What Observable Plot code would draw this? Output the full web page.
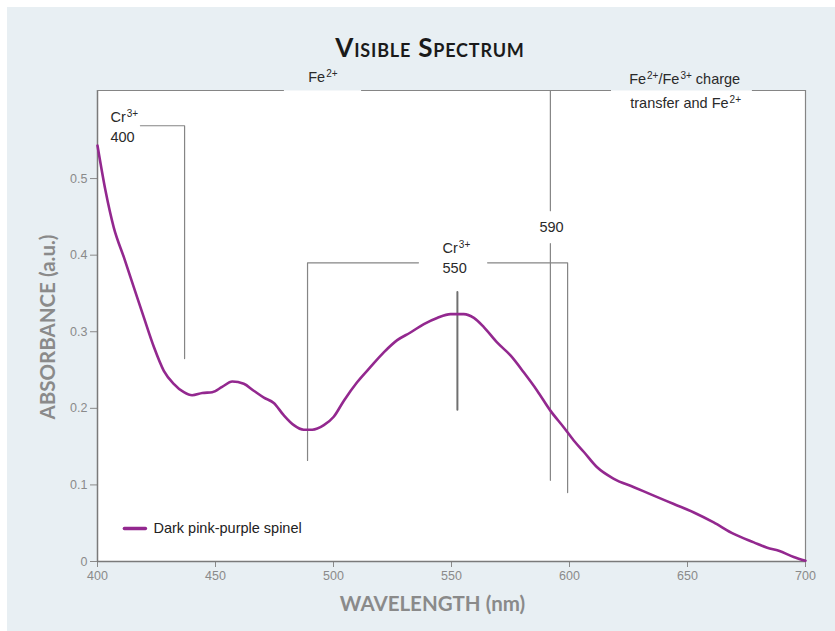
<!DOCTYPE html>
<html><head><meta charset="utf-8">
<script src="https://cdn.jsdelivr.net/npm/d3@7"></script>
<script src="https://cdn.jsdelivr.net/npm/@observablehq/plot@0.6"></script>
<style>
body{margin:0;background:#fff;}
#panel{position:absolute;left:7px;top:7px;width:828px;height:624px;background:#e8eff3;overflow:hidden;}
#title{position:absolute;left:9px;width:828px;top:24px;text-align:center;font:bold 26px Lato, sans-serif;font-variant:small-caps;color:#1a1a1a;letter-spacing:0.8px;}
#chart{position:absolute;left:0;top:55px;}
</style></head><body>
<div id="panel"><div id="title">Visible Spectrum</div><div id="chart"></div></div>
<script>
// ---- data ----
const wavelength = [400, 403.4, 406.9, 411.2, 415.4, 419.6, 423.9, 428.1, 432.3, 436.6, 440.1, 444.4, 448.6, 452.8, 457.1, 462, 466.2, 470.5, 474.7, 478.9, 483.2, 487.4, 491, 495.9, 500.1, 504.4, 510, 515.7, 521.3, 527, 532.6, 538.3, 543.9, 549.6, 555.2, 559.5, 563.7, 569.3, 575, 580.6, 586.3, 591.9, 597.6, 601.8, 606.1, 611.7, 618.8, 627.3, 635.7, 644.2, 652.7, 661.1, 669.6, 678.1, 683.8, 688.7, 695, 700];
const absorbance = [0.543, 0.484, 0.436, 0.397, 0.358, 0.319, 0.280, 0.249, 0.232, 0.221, 0.217, 0.220, 0.221, 0.228, 0.235, 0.232, 0.223, 0.214, 0.207, 0.191, 0.178, 0.172, 0.172, 0.178, 0.189, 0.210, 0.234, 0.254, 0.273, 0.289, 0.299, 0.310, 0.318, 0.323, 0.323, 0.318, 0.306, 0.286, 0.269, 0.247, 0.223, 0.197, 0.175, 0.158, 0.143, 0.123, 0.108, 0.097, 0.086, 0.075, 0.064, 0.051, 0.036, 0.025, 0.018, 0.014, 0.006, 0.001];
const seriesName = "Dark pink-purple spinel";
const xTicks = [400, 450, 500, 550, 600, 650, 700];
const yTicks = [0, 0.1, 0.2, 0.3, 0.4, 0.5];
const yMax = 0.615;

// top frame segments (gaps for labels)
const frameTopSegments = [[400, 479.2], [511.9, 617.8], [677.5, 700]];

// annotation leader lines: [group, wavelength, absorbance]
const leaderLines = [
  ["cr400", 418.2, 0.569], ["cr400", 436.9, 0.569], ["cr400", 436.9, 0.265],
  ["l590a", 591.9, yMax], ["l590a", 591.9, 0.458],
  ["l590b", 591.9, 0.415], ["l590b", 591.9, 0.106],
  ["cr550L", 489.0, 0.132], ["cr550L", 489.0, 0.390], ["cr550L", 536.0, 0.390],
  ["cr550R", 565.3, 0.390], ["cr550R", 599.2, 0.390], ["cr550R", 599.2, 0.090]
];
const peakLine = [[552.5, 0.352], [552.5, 0.198]];

// annotation labels (^{..} = superscript)
const centerLabels = [
  ["Fe^{2+}", 495.5, 0.632],
  ["Fe^{2+}/Fe^{3+} charge", 648.8, 0.629],
  ["transfer and Fe^{2+}", 649.2, 0.598],
  ["590", 592.4, 0.436]
];
const leftLabels = [
  ["Cr^{3+}", 405.5, 0.580], ["400", 405.5, 0.554],
  ["Cr^{3+}", 546.2, 0.409], ["550", 546.2, 0.383]
];
const legendLine = [[411.4, 0.043], [420.3, 0.043]];
const legendLabel = [[423.7, 0.043]];

// ---- build ----
const spectrum = wavelength.map((w, i) => ({w, a: absorbance[i]}));
const gray = "#8a8a8a";
const lineGray = "#858585";
const purple = "#93288f";
const fs = 14.5;

const chart = Plot.plot({
  width: 828, height: 569,
  marginLeft: 90, marginRight: 30, marginTop: 28, marginBottom: 70,
  style: {background: "transparent", fontFamily: "'Liberation Sans', Arial, sans-serif", overflow: "visible"},
  x: {domain: [400, 700]},
  y: {domain: [0, yMax]},
  marks: [
    Plot.frame({fill: "white", stroke: "none"}),
    Plot.axisX({ticks: xTicks, tickSize: 6, tickPadding: 4, fontSize: 12.5, color: gray, label: null}),
    Plot.axisY({ticks: yTicks, tickSize: 7, tickPadding: 3, fontSize: 12.5, color: gray, label: null,
      tickFormat: d => d === 0 ? "0" : d.toFixed(1)}),
    Plot.ruleY([0], {stroke: "#7a7a7a", strokeWidth: 1.5}),
    Plot.ruleX([400], {stroke: "#7a7a7a", strokeWidth: 1.5}),
    Plot.ruleX([700], {stroke: lineGray, strokeWidth: 1.2}),
    Plot.ruleY(frameTopSegments, {y: () => yMax, x1: d => d[0], x2: d => d[1], stroke: lineGray, strokeWidth: 1.2}),
    Plot.line(leaderLines, {x: d => d[1], y: d => d[2], z: d => d[0], stroke: lineGray, strokeWidth: 1.2}),
    Plot.line(peakLine, {x: d => d[0], y: d => d[1], stroke: "#707070", strokeWidth: 2}),
    Plot.line(spectrum, {x: "w", y: "a", stroke: purple, strokeWidth: 2.6, curve: "monotone-x"}),
    Plot.text(centerLabels, {text: d => d[0], x: d => d[1], y: d => d[2], textAnchor: "middle", fontSize: fs, fill: "#2a2a2a"}),
    Plot.text(leftLabels, {text: d => d[0], x: d => d[1], y: d => d[2], textAnchor: "start", fontSize: fs, fill: "#2a2a2a"}),
    Plot.line(legendLine, {x: d => d[0], y: d => d[1], stroke: purple, strokeWidth: 3.5}),
    Plot.text(legendLabel, {text: () => seriesName, x: d => d[0], y: d => d[1], textAnchor: "start", fontSize: fs, fill: "#222"}),
    Plot.text(["ABSORBANCE (a.u.)"], {frameAnchor: "left", textAnchor: "middle", lineAnchor: "middle", rotate: -90, dx: -49, dy: 1, text: d => d,
      fontSize: 20.5, fontWeight: "bold", fill: gray, fontFamily: "Lato, sans-serif"}),
    Plot.text(["WAVELENGTH (nm)"], {frameAnchor: "bottom", textAnchor: "middle", lineAnchor: "middle", dx: -19, dy: 43, text: d => d,
      fontSize: 20.5, fontWeight: "bold", fill: gray, fontFamily: "Lato, sans-serif"})
  ]
});

// superscript post-processing
chart.querySelectorAll("text").forEach(t => {
  const s = t.textContent;
  if (!s.includes("^{")) return;
  t.textContent = "";
  const parts = s.split(/(\^\{[^}]*\})/);
  let raised = false;
  for (const p of parts) {
    if (!p) continue;
    const ts = document.createElementNS("http://www.w3.org/2000/svg", "tspan");
    if (p.startsWith("^{")) {
      ts.textContent = p.slice(2, -1);
      ts.setAttribute("font-size", "10");
      ts.setAttribute("dy", "-5");
      ts.setAttribute("dx", "1");
      raised = true;
    } else {
      ts.textContent = p;
      if (raised) { ts.setAttribute("dy", "5"); raised = false; }
    }
    t.appendChild(ts);
  }
});

document.getElementById("chart").appendChild(chart);
</script>
</body></html>
